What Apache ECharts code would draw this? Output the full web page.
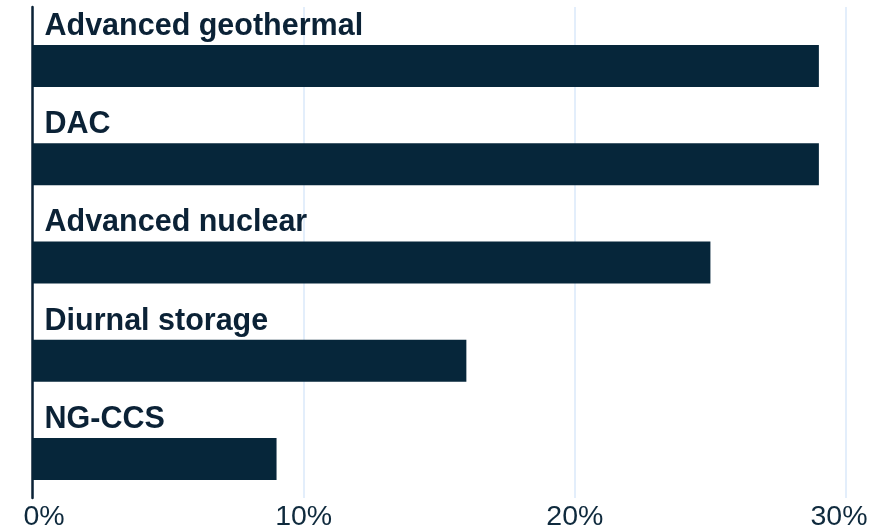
<!DOCTYPE html>
<html>
<head>
<meta charset="utf-8">
<script src="https://cdn.jsdelivr.net/npm/echarts@6/dist/echarts.min.js"></script>
<style>html,body{margin:0;padding:0;background:#fff;}#c{width:876px;height:532px;}</style>
</head>
<body>
<div id="c"></div>
<script>
const categories = ['Advanced geothermal', 'DAC', 'Advanced nuclear', 'Diurnal storage', 'NG-CCS'];
const values = [29, 29, 25, 16, 9];
const spacer = [0, 0, 0, 0, 0];
const xTicks = { min: 0, max: 30, interval: 10 };

const tickFont = { fontFamily: 'Liberation Sans', fontSize: 28.5, color: '#0f2a3d' };
const chart = echarts.init(document.getElementById('c'));
chart.setOption({
  animation: false,
  grid: { left: 32.5, right: 30, top: 7, bottom: 32, containLabel: false },
  xAxis: {
    type: 'value', min: xTicks.min, max: xTicks.max, interval: xTicks.interval,
    axisLine: { show: false }, axisTick: { show: false },
    splitLine: { show: true, lineStyle: { color: '#e3eefb', width: 2 } },
    axisLabel: {
      margin: 5,
      formatter: v => v === xTicks.min ? '{l|' + v + '%}' : (v === xTicks.max ? '{r|' + v + '%}' : '{m|' + v + '%}'),
      rich: {
        l: Object.assign({ padding: [0, 0, 0, 23] }, tickFont),
        m: Object.assign({}, tickFont),
        r: Object.assign({ padding: [0, 14, 0, 0] }, tickFont)
      }
    }
  },
  yAxis: {
    type: 'category', data: categories, inverse: true,
    axisLine: { show: true, lineStyle: { color: '#0b2236', width: 2.5 } },
    axisTick: { show: false }, axisLabel: { show: false }, splitLine: { show: false }
  },
  series: [
    { type: 'bar', data: spacer, barWidth: 20, barGap: 0, silent: true, itemStyle: { color: 'rgba(0,0,0,0)' } },
    {
      type: 'bar', data: values, barWidth: 42, barGap: 0,
      itemStyle: { color: '#06263a' },
      label: {
        show: true, position: [12, -34], align: 'left', verticalAlign: 'top',
        formatter: p => categories[p.dataIndex],
        fontFamily: 'Liberation Sans', fontWeight: 'bold', fontSize: 30.5, color: '#0b2236'
      }
    }
  ]
});
</script>
</body>
</html>
